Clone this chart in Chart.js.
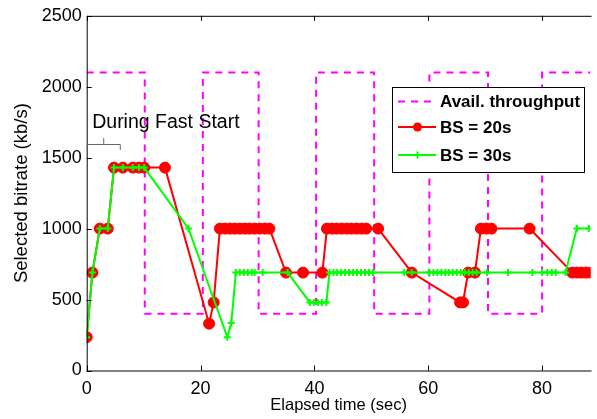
<!DOCTYPE html>
<html>
<head>
<meta charset="utf-8">
<script src="https://cdn.jsdelivr.net/npm/chart.js@4.4.0/dist/chart.umd.min.js"></script>
<style>
  html, body { margin: 0; padding: 0; background: #fff; }
  #wrap { width: 597px; height: 419px; }
</style>
</head>
<body>
<div id="wrap"><canvas id="chart" width="597" height="419"></canvas></div>
<script>
// --- data (seconds, kb/s) ---
var throughputTimes = [0, 10.2, 20.4, 30.2, 40.3, 50.5, 60.2, 70.5, 80.0, 88.5];
var throughputKbps  = [2100, 400, 2100, 400, 2100, 400, 2100, 400, 2100, 2100];

var bs20Times = [0, 1.0, 2.3, 3.7, 4.8, 6.35, 8.1, 9.2, 10.1, 13.75,
  21.5, 22.3,
  23.4, 24.3, 25.2, 26.0, 26.9, 27.8, 28.6, 29.5, 30.4, 31.3, 32.1,
  35.0, 38.0, 41.4,
  42.2, 43.1, 43.9, 44.8, 45.7, 46.5, 47.4, 48.3, 49.1, 51.2,
  57.1, 65.6, 66.1, 67.0, 68.2,
  69.25, 70.2, 71.1, 77.8,
  85.3, 86.1, 86.9, 87.7, 88.5];
var bs20Kbps = [235, 690, 1000, 1000, 1430, 1430, 1430, 1430, 1430, 1430,
  330, 480,
  1000, 1000, 1000, 1000, 1000, 1000, 1000, 1000, 1000, 1000, 1000,
  690, 690, 690,
  1000, 1000, 1000, 1000, 1000, 1000, 1000, 1000, 1000, 1000,
  690, 480, 480, 690, 690,
  1000, 1000, 1000, 1000,
  690, 690, 690, 690, 690];

var bs30Times = [0, 1.0, 2.3, 3.7, 4.8, 6.35, 8.1, 9.2, 10.1,
  17.9, 24.7, 25.4,
  26.2, 26.9, 27.6, 28.3, 29.0, 29.5, 30.9, 35.3,
  39.2, 39.9, 40.6, 41.3, 42.1,
  42.65, 43.35, 44.0, 44.7, 45.4, 46.1, 46.8, 47.5, 48.2, 48.9, 49.6, 50.3,
  55.8, 57.1, 60.1, 60.9, 61.6, 62.3, 63.0, 63.6, 64.3, 65.0, 65.7,
  66.4, 67.1, 67.8, 68.5, 70.3, 74.0, 78.3, 80.0, 80.9, 81.7, 82.4, 84.1,
  86.1, 88.2];
var bs30Kbps = [235, 690, 1000, 1000, 1430, 1430, 1430, 1430, 1430,
  1000, 235, 335,
  690, 690, 690, 690, 690, 690, 690, 690,
  480, 480, 480, 480, 480,
  690, 690, 690, 690, 690, 690, 690, 690, 690, 690, 690, 690,
  690, 690, 690, 690, 690, 690, 690, 690, 690, 690, 690,
  690, 690, 690, 690, 690, 690, 690, 690, 690, 690, 690, 690,
  1000, 1000];

var xTicks = [0, 20, 40, 60, 80];
var yTicks = [0, 500, 1000, 1500, 2000, 2500];
var fastStartSpan = [0, 5.9];   // bracket under "During Fast Start"

var FONT = "'Liberation Sans', Arial, Helvetica, sans-serif";
var MAGENTA = '#ff00ff', RED = '#ff0000', GREEN = '#00ff00';

function pts(xs, ys) {
  return xs.map(function (x, i) { return { x: x, y: ys[i] }; });
}

// MATLAB-like box, inward ticks, annotation and legend
var decor = {
  id: 'decor',
  afterDatasetsDraw: function (chart) {
    var ctx = chart.ctx, a = chart.chartArea;
    var xs = chart.scales.x, ys = chart.scales.y;
    ctx.save();
    ctx.strokeStyle = '#000';
    ctx.lineWidth = 1;
    ctx.beginPath();
    ctx.moveTo(a.left + 0.5, a.bottom + 0.5);
    ctx.lineTo(a.left + 0.5, a.top + 0.5);
    ctx.lineTo(a.right + 1, a.top + 0.5);
    ctx.moveTo(a.left, a.bottom + 0.5);
    ctx.lineTo(a.right + 1, a.bottom + 0.5);
    xTicks.forEach(function (v) {
      var px = Math.round(xs.getPixelForValue(v)) + 0.5;
      ctx.moveTo(px, a.bottom); ctx.lineTo(px, a.bottom - 5);
      ctx.moveTo(px, a.top); ctx.lineTo(px, a.top + 5);
    });
    yTicks.forEach(function (v) {
      var py = Math.round(ys.getPixelForValue(v)) + 0.5;
      ctx.moveTo(a.left, py); ctx.lineTo(a.left + 5, py);
    });
    ctx.stroke();

    // "During Fast Start" annotation
    ctx.fillStyle = '#000';
    ctx.font = '19.5px ' + FONT;
    ctx.textBaseline = 'alphabetic';
    ctx.textAlign = 'left';
    ctx.fillText('During Fast Start', a.left + 5.5, 128);
    var bx0 = xs.getPixelForValue(fastStartSpan[0]) + 0.5;
    var bx1 = xs.getPixelForValue(fastStartSpan[1]);
    var bm = (bx0 + bx1) / 2;
    ctx.strokeStyle = '#666';
    ctx.beginPath();
    ctx.moveTo(bx0, 150); ctx.lineTo(bx0, 144.5); ctx.lineTo(bx1, 144.5); ctx.lineTo(bx1, 150);
    ctx.moveTo(bm, 144.5); ctx.lineTo(bm, 138);
    ctx.stroke();

    // legend box
    var lx = 392, ly = 87, lw = 192, lh = 85;
    ctx.fillStyle = '#fff';
    ctx.fillRect(lx, ly, lw, lh);
    ctx.strokeStyle = '#000';
    ctx.strokeRect(lx + 0.5, ly + 0.5, lw, lh);
    var rows = [
      { y: 101.5, text: 'Avail. throughput' },
      { y: 127, text: 'BS = 20s' },
      { y: 155, text: 'BS = 30s' }
    ];
    ctx.lineWidth = 2;
    // magenta dashed sample
    ctx.strokeStyle = MAGENTA;
    ctx.setLineDash([7, 6]);
    ctx.beginPath(); ctx.moveTo(398, rows[0].y); ctx.lineTo(436, rows[0].y); ctx.stroke();
    ctx.setLineDash([]);
    // red sample
    ctx.strokeStyle = RED; ctx.fillStyle = RED;
    ctx.beginPath(); ctx.moveTo(398, rows[1].y); ctx.lineTo(436, rows[1].y); ctx.stroke();
    ctx.beginPath(); ctx.arc(417.5, rows[1].y, 4.5, 0, Math.PI * 2); ctx.fill();
    // green sample
    ctx.strokeStyle = GREEN;
    ctx.beginPath(); ctx.moveTo(398, rows[2].y); ctx.lineTo(436, rows[2].y);
    ctx.moveTo(417.5, rows[2].y - 3.5); ctx.lineTo(417.5, rows[2].y + 3.5); ctx.stroke();

    ctx.fillStyle = '#000';
    ctx.font = 'bold 17px ' + FONT;
    ctx.textBaseline = 'middle';
    rows.forEach(function (r) { ctx.fillText(r.text, 440, r.y + 1); });
    ctx.restore();
  }
};

function plainTick(v) { return String(v); }

new Chart(document.getElementById('chart'), {
  type: 'line',
  data: {
    datasets: [
      {
        label: 'Avail. throughput',
        data: pts(throughputTimes, throughputKbps),
        stepped: 'before',
        borderColor: MAGENTA, borderWidth: 2, borderDash: [7, 6],
        pointRadius: 0, fill: false, order: 3
      },
      {
        label: 'BS = 20s',
        data: pts(bs20Times, bs20Kbps),
        borderColor: RED, backgroundColor: RED, borderWidth: 2,
        pointRadius: 5.5, pointBackgroundColor: RED, pointBorderColor: RED,
        pointBorderWidth: 1, tension: 0, fill: false, order: 2
      },
      {
        label: 'BS = 30s',
        data: pts(bs30Times, bs30Kbps),
        borderColor: GREEN, backgroundColor: GREEN, borderWidth: 2,
        pointStyle: 'cross', pointRadius: 3.5, pointBorderColor: GREEN,
        pointBorderWidth: 2, tension: 0, fill: false, order: 1
      }
    ]
  },
  options: {
    responsive: false,
    devicePixelRatio: 1,
    animation: false,
    layout: { padding: { top: 15, right: 0, left: 0, bottom: 0 } },
    plugins: { legend: { display: false }, tooltip: { enabled: false } },
    scales: {
      x: {
        type: 'linear', min: 0, max: 88.5,
        afterBuildTicks: function (s) { s.ticks = xTicks.map(function (v) { return { value: v }; }); },
        afterFit: function (s) { s.height = 48.5; },
        grid: { display: false, drawTicks: false },
        border: { display: false },
        ticks: { color: '#000', font: { size: 18, family: FONT }, padding: 8, maxRotation: 0,
          autoSkip: false, callback: plainTick },
        title: { display: true, text: 'Elapsed time (sec)', color: '#000',
          font: { size: 16.5, family: FONT }, padding: { top: 0, bottom: 4 } }
      },
      y: {
        type: 'linear', min: 0, max: 2500,
        afterBuildTicks: function (s) { s.ticks = yTicks.map(function (v) { return { value: v }; }); },
        afterFit: function (s) { s.width = 86.7; },
        grid: { display: false, drawTicks: false },
        border: { display: false },
        ticks: { color: '#000', font: { size: 18, family: FONT }, padding: 5, callback: plainTick },
        title: { display: true, text: 'Selected bitrate (kb/s)', color: '#000',
          font: { size: 18.5, family: FONT }, padding: { top: 11, bottom: 0 } }
      }
    }
  },
  plugins: [decor]
});
</script>
</body>
</html>
